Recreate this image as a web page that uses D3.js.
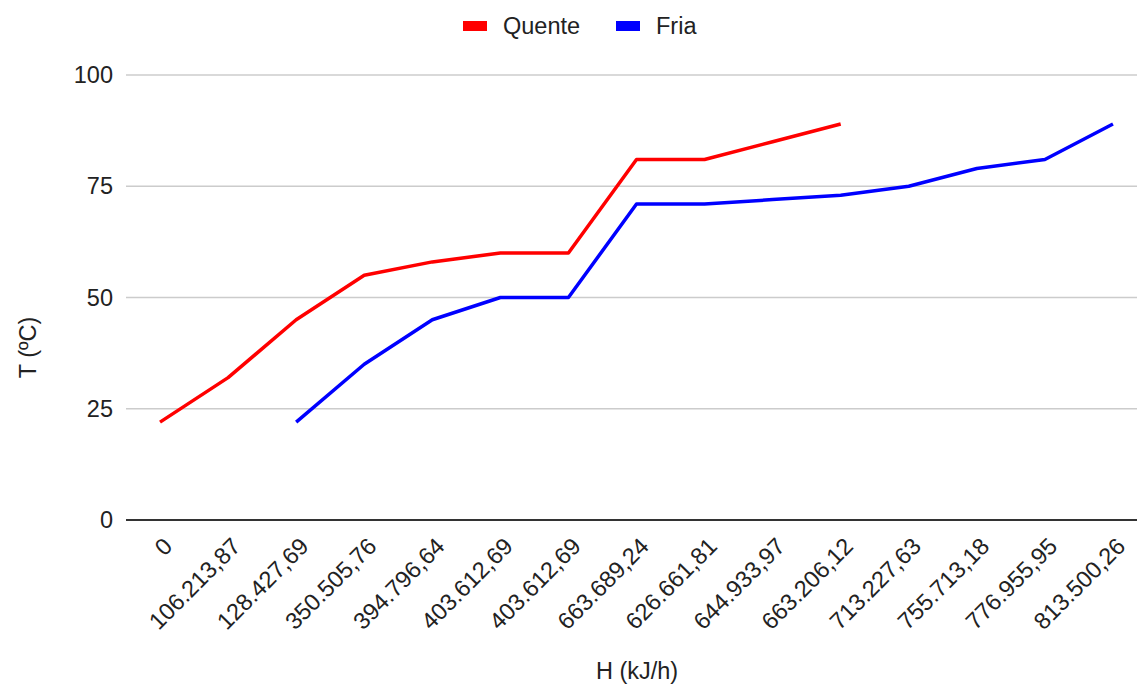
<!DOCTYPE html>
<html>
<head>
<meta charset="utf-8">
<script src="https://cdn.jsdelivr.net/npm/d3@7"></script>
<style>
  body { margin: 0; background: #fff; }
  svg { font-family: "Liberation Sans", Arial, sans-serif; }
</style>
</head>
<body>
<div id="chart"></div>
<script>
// H (kJ/h) categories on the x axis
const categories = ['0', '106.213,87', '128.427,69', '350.505,76', '394.796,64', '403.612,69',
  '403.612,69', '663.689,24', '626.661,81', '644.933,97', '663.206,12', '713.227,63',
  '755.713,18', '776.955,95', '813.500,26'];

// T (ºC) per category, null where the series has no point
const quente = [22, 32, 45, 55, 58, 60, 60, 81, 81, 85, 89, null, null, null, null];
const fria = [null, null, 22, 35, 45, 50, 50, 71, 71, 72, 73, 75, 79, 81, 89];

const yTicks = [0, 25, 50, 75, 100];

const series = [
  { name: 'Quente', color: '#ff0000', values: quente },
  { name: 'Fria', color: '#0000ff', values: fria }
];

const width = 1137, height = 686;
const plot = { left: 126, right: 1147, top: 75, bottom: 520 };
const fontSize = '23.5px';

const svg = d3.select('#chart').append('svg')
  .attr('width', width)
  .attr('height', height);

const x = d3.scalePoint()
  .domain(d3.range(categories.length))
  .range([plot.left, plot.right])
  .padding(0.5);

const y = d3.scaleLinear()
  .domain([0, 100])
  .range([plot.bottom, plot.top]);

// Gridlines
svg.append('g')
  .selectAll('line')
  .data(yTicks.filter(t => t !== 0))
  .join('line')
    .attr('x1', plot.left)
    .attr('x2', width)
    .attr('y1', d => y(d))
    .attr('y2', d => y(d))
    .attr('stroke', '#cccccc')
    .attr('stroke-width', 1.5);

// Y tick labels
svg.append('g')
  .selectAll('text')
  .data(yTicks)
  .join('text')
    .attr('x', plot.left - 13)
    .attr('y', d => y(d))
    .attr('dy', '0.35em')
    .attr('text-anchor', 'end')
    .attr('fill', '#222')
    .style('font-size', fontSize)
    .text(d => d);

// Lines
const line = d3.line()
  .defined(d => d.v !== null)
  .x(d => x(d.i))
  .y(d => y(d.v));

svg.append('g')
  .selectAll('path')
  .data(series)
  .join('path')
    .attr('fill', 'none')
    .attr('stroke', d => d.color)
    .attr('stroke-width', 3.5)
    .attr('stroke-linejoin', 'round')
    .attr('d', d => line(d.values.map((v, i) => ({ i, v }))));

// Baseline at zero
svg.append('line')
  .attr('x1', plot.left)
  .attr('x2', width)
  .attr('y1', y(0))
  .attr('y2', y(0))
  .attr('stroke', '#333')
  .attr('stroke-width', 2);

// X tick labels, rotated
svg.append('g')
  .selectAll('text')
  .data(categories)
  .join('text')
    .attr('transform', (d, i) => `translate(${x(i) + 8},${plot.bottom + 22}) rotate(-45)`)
    .attr('text-anchor', 'end')
    .attr('dy', '0.35em')
    .attr('fill', '#222')
    .style('font-size', fontSize)
    .text(d => d);

// Axis titles
svg.append('text')
  .attr('x', 637)
  .attr('y', 679)
  .attr('text-anchor', 'middle')
  .attr('fill', '#222')
  .style('font-size', fontSize)
  .text('H (kJ/h)');

svg.append('text')
  .attr('transform', `translate(36,${(plot.top + plot.bottom) / 2 + 50}) rotate(-90)`)
  .attr('text-anchor', 'middle')
  .attr('fill', '#222')
  .style('font-size', fontSize)
  .text('T (ºC)');

// Legend
const legendPos = [463, 616];
const legend = svg.append('g')
  .selectAll('g')
  .data(series)
  .join('g')
    .attr('transform', (d, i) => `translate(${legendPos[i]},0)`);

legend.append('rect')
  .attr('y', 21)
  .attr('width', 24)
  .attr('height', 10)
  .attr('fill', d => d.color);

legend.append('text')
  .attr('x', 40)
  .attr('y', 26)
  .attr('dy', '0.35em')
  .attr('fill', '#222')
  .style('font-size', fontSize)
  .text(d => d.name);
</script>
</body>
</html>
